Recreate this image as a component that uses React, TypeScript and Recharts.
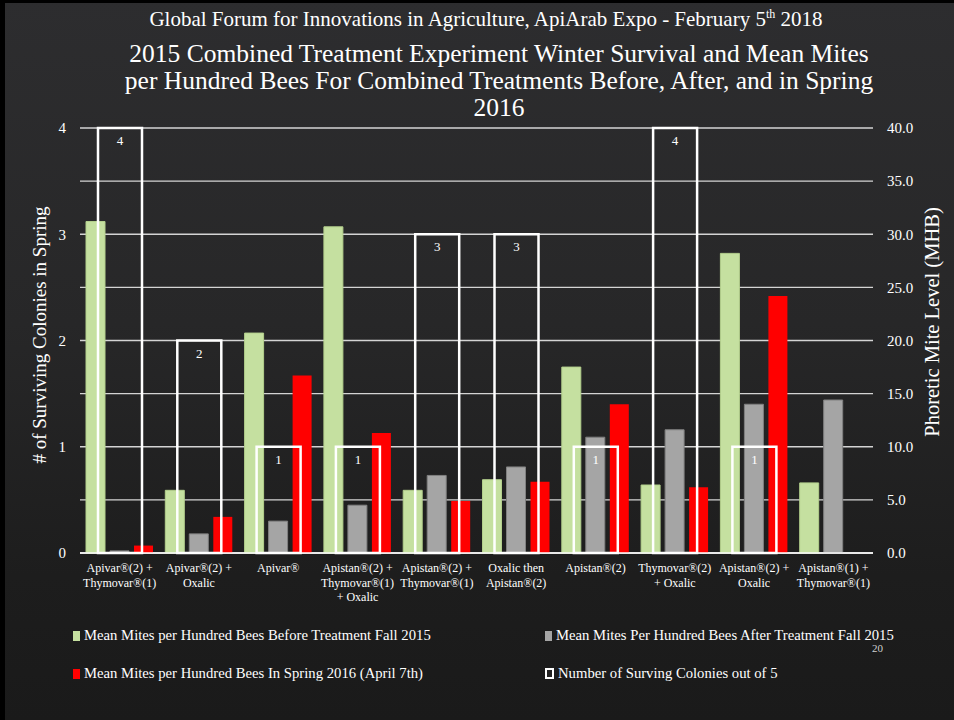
import { BarChart, Bar, XAxis, YAxis, CartesianGrid, LabelList } from 'recharts'

const categories = [
  'Apivar®(2) +\nThymovar®(1)',
  'Apivar®(2) +\nOxalic',
  'Apivar®',
  'Apistan®(2) +\nThymovar®(1)\n+ Oxalic',
  'Apistan®(2) +\nThymovar®(1)',
  'Oxalic then\nApistan®(2)',
  'Apistan®(2)',
  'Thymovar®(2)\n+ Oxalic',
  'Apistan®(2) +\nOxalic',
  'Apistan®(1) +\nThymovar®(1)',
]

const survivingColonies = [4, 2, 1, 1, 3, 3, 1, 4, 1, 0]
const mitesBeforeFall = [31.2, 5.9, 20.7, 30.7, 5.9, 6.9, 17.5, 6.4, 28.2, 6.6]
const mitesAfterFall = [0.2, 1.8, 3.0, 4.5, 7.3, 8.1, 10.9, 11.6, 14.0, 14.4]
const mitesSpring = [0.7, 3.4, 16.7, 11.3, 4.9, 6.7, 14.0, 6.2, 24.2, null]

const leftTicks = [0, 1, 2, 3, 4]
const rightTicks = [0, 5, 10, 15, 20, 25, 30, 35, 40]

const seriesNames = {
  before: 'Mean Mites per Hundred Bees Before Treatment Fall 2015',
  after: 'Mean Mites Per Hundred Bees After Treatment Fall 2015',
  spring: 'Mean Mites per Hundred Bees In Spring 2016 (April 7th)',
  colonies: 'Number of Surving Colonies out of 5',
}

const data = categories.map((name, i) => ({
  name,
  colonies: survivingColonies[i],
  before: mitesBeforeFall[i],
  after: mitesAfterFall[i],
  spring: mitesSpring[i],
}))

const FONT = '"Liberation Serif", "DejaVu Serif", serif'
const GREEN = '#c5e0a0'
const GRAY = '#a5a5a5'
const RED = '#ff0000'

function CategoryTick({ x, y, payload }: any) {
  const lines = String(payload.value).split('\n')
  return (
    <g transform={`translate(${x},${y})`}>
      <text textAnchor="middle" fill="#fff" fontSize={12} fontFamily={FONT}>
        {lines.map((l, i) => (
          <tspan key={i} x={0} dy={i === 0 ? 17 : 14.5}>
            {l}
          </tspan>
        ))}
      </text>
    </g>
  )
}

function LegendItem({ color, label, hollow }: { color: string; label: string; hollow?: boolean }) {
  return (
    <div style={{ display: 'flex', alignItems: 'center', whiteSpace: 'nowrap' }}>
      <span
        style={{
          display: 'inline-block',
          width: hollow ? 5 : 7,
          height: hollow ? 7 : 10,
          background: hollow ? '#222' : color,
          border: hollow ? '2px solid #fff' : 'none',
          marginRight: 4,
        }}
      />
      <span>{label}</span>
    </div>
  )
}

export default function App() {
  return (
    <div
      style={{
        position: 'absolute',
        left: 0,
        top: 0,
        width: 954,
        height: 720,
        overflow: 'hidden',
        background: 'linear-gradient(180deg, #2d2d2f 0%, #272728 45%, #1d1d1d 80%, #1a1a1a 100%)',
        boxShadow: 'inset 5px 3px 0 #000',
        fontFamily: FONT,
        color: '#fff',
      }}
    >
      <div style={{ position: 'absolute', left: 0, width: 972, top: 7, textAlign: 'center', fontSize: 21 }}>
        Global Forum for Innovations in Agriculture, ApiArab Expo - February 5<sup style={{ fontSize: 12 }}>th</sup> 2018
      </div>
      <div
        style={{
          position: 'absolute',
          left: 0,
          width: 998,
          top: 40,
          textAlign: 'center',
          fontSize: 25.5,
          lineHeight: '27px',
        }}
      >
        2015 Combined Treatment Experiment Winter Survival and Mean Mites
        <br />
        per Hundred Bees For Combined Treatments Before, After, and in Spring
        <br />
        2016
      </div>

      <div style={{ position: 'absolute', left: 0, top: 0 }}>
        <BarChart
          width={954}
          height={720}
          data={data}
          margin={{ top: 128, right: 21, left: 40, bottom: 107 }}
          barGap={5}
        >
          <CartesianGrid
            yAxisId="right"
            xAxisId="a"
            vertical={false}
            stroke="#d4d4d4"
            strokeWidth={1.3}
          />
          <XAxis
            xAxisId="a"
            dataKey="name"
            height={60}
            interval={0}
            tick={<CategoryTick />}
            tickLine={false}
            tickSize={0}
            axisLine={{ stroke: '#fff', strokeWidth: 1.5 }}
          />
          <XAxis xAxisId="b" dataKey="name" hide />
          <YAxis
            yAxisId="left"
            orientation="left"
            width={40}
            domain={[0, 4]}
            ticks={leftTicks}
            tickLine={false}
            axisLine={false}
            tickSize={6}
            tickMargin={8}
            tick={{ fill: '#fff', fontSize: 15, fontFamily: FONT }}
          />
          <YAxis
            yAxisId="right"
            orientation="right"
            width={60}
            domain={[0, 40]}
            ticks={rightTicks}
            tickLine={false}
            axisLine={false}
            tickSize={6}
            tickMargin={8}
            tickFormatter={(v: number) => v.toFixed(1)}
            tick={{ fill: '#fff', fontSize: 15, fontFamily: FONT, textAnchor: 'start' }}
          />
          <Bar
            xAxisId="a"
            yAxisId="right"
            dataKey="before"
            name={seriesNames.before}
            fill={GREEN}
            stroke="#b3cf8c"
            strokeWidth={1}
            barSize={19}
            isAnimationActive={false}
          />
          <Bar
            xAxisId="a"
            yAxisId="right"
            dataKey="after"
            name={seriesNames.after}
            fill={GRAY}
            stroke="#808080"
            strokeWidth={1}
            barSize={19}
            isAnimationActive={false}
          />
          <Bar
            xAxisId="a"
            yAxisId="right"
            dataKey="spring"
            name={seriesNames.spring}
            fill={RED}
            barSize={19}
            isAnimationActive={false}
          />
          <Bar
            xAxisId="b"
            yAxisId="left"
            dataKey="colonies"
            name={seriesNames.colonies}
            fill="none"
            stroke="#fff"
            strokeWidth={2.5}
            barSize={44}
            isAnimationActive={false}
          >
            <LabelList
              dataKey="colonies"
              position="insideTop"
              offset={8}
              fill="#fff"
              fontSize={13}
              fontFamily={FONT}
              formatter={(v: any) => (v ? v : '')}
            />
          </Bar>
        </BarChart>
      </div>

      <div
        style={{
          position: 'absolute',
          left: 40,
          top: 335,
          transform: 'translate(-50%, -50%) rotate(-90deg)',
          fontSize: 19,
          whiteSpace: 'nowrap',
        }}
      >
        # of Surviving Colonies in Spring
      </div>
      <div
        style={{
          position: 'absolute',
          left: 932,
          top: 322,
          transform: 'translate(-50%, -50%) rotate(-90deg)',
          fontSize: 20.5,
          whiteSpace: 'nowrap',
        }}
      >
        Phoretic Mite Level (MHB)
      </div>

      <div style={{ position: 'absolute', left: 73, top: 627, fontSize: 14.7 }}>
        <LegendItem color={GREEN} label={seriesNames.before} />
      </div>
      <div style={{ position: 'absolute', left: 545, top: 627, fontSize: 14.7 }}>
        <LegendItem color={GRAY} label={seriesNames.after} />
      </div>
      <div style={{ position: 'absolute', left: 73, top: 665, fontSize: 14.7 }}>
        <LegendItem color={RED} label={seriesNames.spring} />
      </div>
      <div style={{ position: 'absolute', left: 545, top: 665, fontSize: 14.7 }}>
        <LegendItem color="#fff" label={seriesNames.colonies} hollow />
      </div>
      <div style={{ position: 'absolute', left: 872, top: 642, fontSize: 11, color: '#cfcfcf' }}>20</div>
    </div>
  )
}
